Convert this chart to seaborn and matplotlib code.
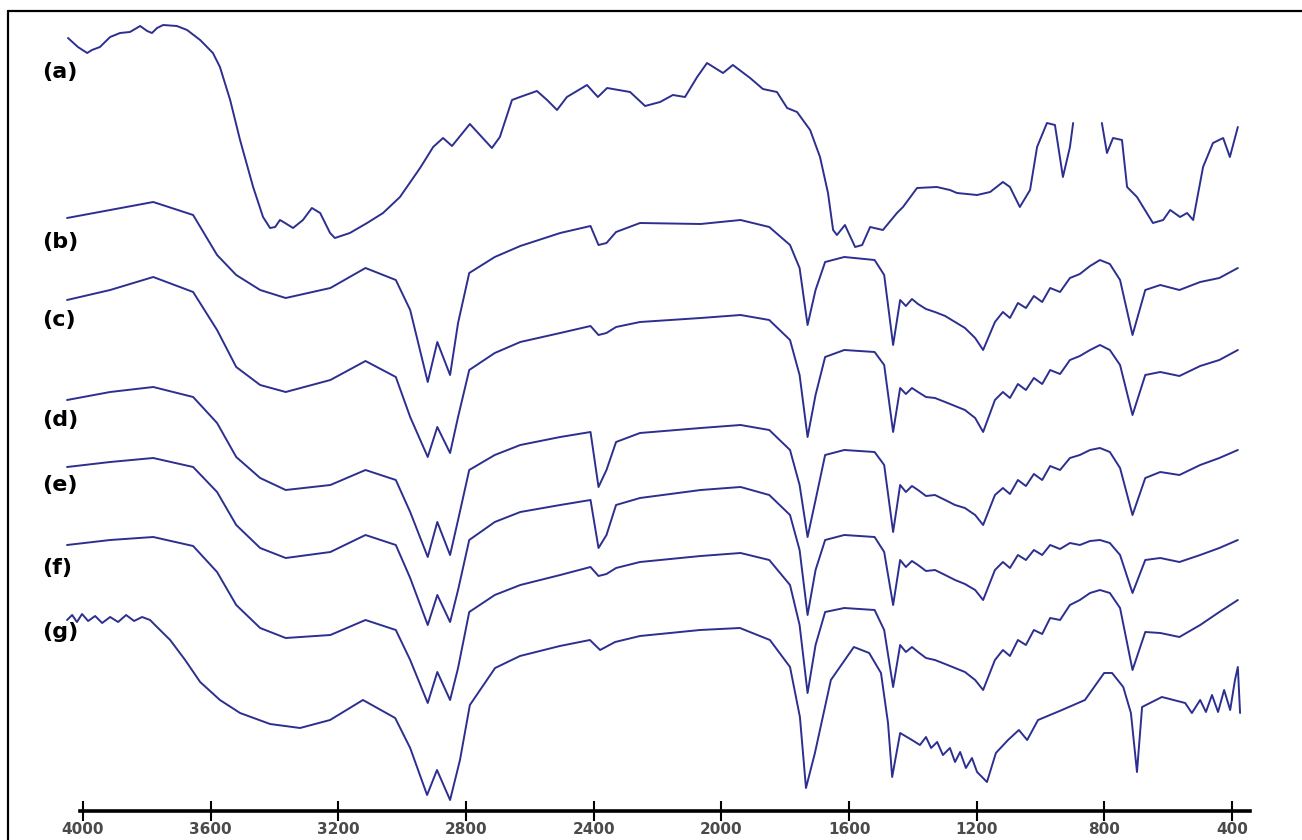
import pandas as pd
import matplotlib
matplotlib.use("Agg")
import matplotlib.pyplot as plt
from matplotlib.lines import Line2D
import seaborn as sns

sns.set_style("white")
plt.rcParams['font.family'] = ['DejaVu Sans']

# wavenumbers (cm-1) shared by the spectra b - f
wavenumber = [4050, 3915, 3780, 3655, 3580, 3520, 3445, 3365, 3225, 3115, 3020, 2975, 2920, 2890, 2850,
              2825, 2790, 2710, 2630, 2505, 2410, 2385, 2360, 2330, 2255, 2065, 1940, 1850, 1785, 1755,
              1730, 1705, 1675, 1615, 1520, 1490,
              1462, 1440, 1422, 1403, 1384, 1359, 1331, 1299, 1268, 1237, 1205, 1180, 1143, 1118, 1096,
              1071, 1046, 1021, 995, 970, 939, 908, 877, 845, 814, 783, 751, 712, 672, 625, 565, 500,
              440, 382]

# stacked transmittance (a.u.)
trace_b = [593, 601, 609, 596, 556, 536, 521, 513, 523, 543, 531, 501, 429, 469, 436,
           488, 538, 554, 565, 578, 585, 566, 568, 579, 588, 587, 591, 584, 566, 543,
           486, 521, 549, 554, 551, 536,
           466, 511, 505, 512, 507, 502, 499, 495, 489, 483, 473, 461, 489, 499, 493,
           508, 503, 515, 509, 523, 519, 533, 537, 545, 551, 547, 531, 476, 521, 526, 521, 529,
           533, 543]
trace_c = [511, 521, 534, 519, 481, 444, 426, 419, 431, 450, 434, 394, 354, 384, 358,
           394, 441, 458, 469, 478, 485, 476, 478, 484, 489, 493, 496, 491, 471, 436,
           374, 416, 454, 461, 459, 446,
           379, 423, 417, 423, 419, 414, 413, 409, 405, 401, 393, 379, 411, 419, 413,
           427, 421, 433, 427, 441, 437, 451, 455, 461, 466, 461, 446, 396, 436, 439, 435, 445,
           451, 461]
trace_d = [411, 419, 424, 414, 388, 354, 333, 321, 326, 341, 331, 299, 254, 289, 256,
           291, 341, 356, 366, 374, 379, 324, 341, 369, 378, 383, 386, 381, 361, 326,
           274, 311, 356, 361, 359, 346,
           279, 326, 319, 325, 321, 315, 316, 311, 306, 303, 296, 286, 316, 323, 317,
           331, 325, 337, 331, 345, 341, 353, 356, 361, 363, 359, 343, 296, 333, 339, 336, 346,
           353, 361]
trace_e = [344, 349, 353, 344, 319, 286, 263, 253, 259, 276, 266, 233, 186, 216, 189,
           221, 271, 289, 299, 306, 311, 263, 276, 306, 313, 321, 324, 316, 296, 261,
           196, 241, 271, 276, 274, 259,
           206, 251, 244, 250, 246, 240, 241, 236, 231, 227, 221, 211, 241, 249, 243,
           256, 251, 261, 256, 266, 262, 268, 266, 270, 271, 268, 256, 218, 251, 253, 249, 256,
           263, 271]
trace_f = [266, 271, 274, 265, 239, 206, 183, 173, 176, 191, 181, 151, 108, 139, 111,
           143, 199, 216, 226, 236, 244, 235, 237, 243, 249, 255, 258, 251, 226, 186,
           118, 166, 199, 203, 201, 181,
           124, 166, 159, 164, 159, 153, 151, 147, 143, 139, 131, 121, 151, 161, 155,
           171, 166, 181, 177, 193, 191, 206, 211, 218, 221, 218, 203, 141, 179, 178, 174, 186,
           199, 211]

# spectrum g is noisier, so it has its own points
wavenumber_g = [4050, 4034, 4019, 4003, 3984, 3962, 3940, 3915, 3890, 3865, 3840, 3815, 3790, 3765, 3727,
                3680, 3633, 3571, 3508, 3414, 3320, 3226, 3123, 3022, 2975, 2922, 2891, 2850, 2819, 2788,
                2709, 2631, 2506, 2412, 2380, 2333, 2255, 2067, 1942, 1848, 1785, 1754, 1735, 1707, 1657,
                1585, 1537, 1500, 1478, 1465, 1440, 1403, 1378, 1359, 1343, 1324, 1306, 1284, 1268, 1252,
                1234, 1215, 1199, 1168, 1140, 1102, 1068, 1042, 1008, 933, 861, 801, 776, 741, 717,
                698, 682, 620, 547, 526, 500, 482, 463, 444, 425, 406, 391, 382, 375]
trace_g = [191, 196, 189, 197, 190, 195, 188, 194, 189, 196, 190, 194, 191, 183, 171,
           151, 129, 111, 98, 87, 83, 91, 111, 93, 63, 16, 41, 11, 51, 106,
           143, 155, 165, 171, 161, 169, 175, 181, 183, 171, 144, 94, 23, 58, 131,
           164, 158, 138, 88, 34, 78, 71, 66, 74, 63, 69, 56, 63, 49, 59,
           43, 53, 39, 29, 58, 71, 81, 71, 91, 101, 111, 138, 138, 124, 98,
           39, 104, 114, 108, 98, 111, 99, 116, 99, 121, 101, 131, 144, 98]

# spectrum a runs off the top between 900 and 800 cm-1
wavenumber_a1 = [4047, 4016, 3987, 3972, 3947, 3915, 3884, 3853, 3821, 3799, 3784, 3768, 3749, 3706, 3674,
                 3633, 3593, 3571, 3539, 3508, 3467, 3436, 3414, 3398, 3383, 3367, 3342, 3311, 3283, 3257,
                 3226, 3211, 3164, 3110, 3060, 3007, 2944, 2903, 2872, 2844, 2788, 2719, 2694, 2656, 2631,
                 2578, 2546, 2515, 2484, 2421, 2387, 2358, 2286, 2239, 2192, 2152, 2114, 2076, 2045, 1995,
                 1964, 1910, 1870, 1826, 1794, 1763, 1722, 1691, 1666, 1650, 1638, 1613, 1581, 1559, 1534,
                 1494, 1450, 1431, 1387, 1325, 1284, 1262, 1199, 1158, 1118, 1096, 1065, 1033, 1011, 980,
                 955, 930, 908, 898]
trace_a1 = [773, 764, 758, 761, 764, 774, 778, 779, 785, 780, 778, 783, 786, 785, 781,
            771, 758, 744, 711, 671, 624, 594, 583, 584, 591, 588, 583, 591, 603, 598,
            578, 573, 578, 588, 598, 614, 643, 664, 673, 665, 687, 663, 674, 711, 714,
            720, 711, 701, 714, 726, 714, 723, 719, 705, 709, 716, 714, 734, 748, 738,
            746, 733, 722, 719, 703, 699, 681, 654, 618, 581, 576, 586, 564, 566, 584,
            581, 598, 604, 623, 624, 621, 618, 616, 619, 629, 624, 604, 621, 664, 688,
            686, 634, 664, 688]
wavenumber_a2 = [808, 792, 773, 745, 729, 698, 648, 616, 594, 563, 541, 522, 491, 460, 428, 407, 382]
trace_a2 = [688, 658, 673, 671, 624, 614, 588, 591, 601, 594, 598, 591, 644, 668, 673, 654, 684]

tick_values = [4000, 3600, 3200, 2800, 2400, 2000, 1600, 1200, 800, 400]
trace_names = ["(a)", "(b)", "(c)", "(d)", "(e)", "(f)", "(g)"]
label_level = [739, 569, 491, 391, 326, 243, 179]

parts = [("a1", wavenumber_a1, trace_a1), ("a2", wavenumber_a2, trace_a2),
         ("b", wavenumber, trace_b), ("c", wavenumber, trace_c), ("d", wavenumber, trace_d),
         ("e", wavenumber, trace_e), ("f", wavenumber, trace_f), ("g", wavenumber_g, trace_g)]
df = pd.concat([pd.DataFrame({"wn": w, "T": v, "trace": n}) for n, w, v in parts])

fig = plt.figure(figsize=(13.02, 8.4), dpi=100)
ax = fig.add_axes([8 / 1302, 29 / 840, 1294 / 1302, 800 / 840])
sns.lineplot(data=df, x="wn", y="T", units="trace", estimator=None, sort=False,
             color="#2c2f8f", lw=1.4, ax=ax, legend=False)

ax.set_xlim(4235, 181)
ax.set_ylim(0, 800)
ax.set_yticks([])
ax.set_xlabel("")
ax.set_ylabel("")
for s in ["left", "right", "top"]:
    ax.spines[s].set_visible(False)
ax.spines["bottom"].set_bounds(4009, 344)
ax.spines["bottom"].set_linewidth(2.6)
ax.spines["bottom"].set_color("black")
ax.set_xticks(tick_values)
ax.set_xticklabels([str(t) for t in tick_values])
ax.tick_params(axis="x", direction="inout", length=14, width=1.5, color="black",
               labelsize=11, labelcolor="#4a4a4a", pad=1, bottom=True)
for t in ax.get_xticklabels():
    t.set_fontweight("bold")

for name, lev in zip(trace_names, label_level):
    ax.text(4128, lev, name, fontsize=16, fontweight="bold", color="black",
            ha="left", va="center")

# frame around the figure (left and top edges)
fig.add_artist(Line2D([8 / 1302, 8 / 1302], [0, 829 / 840], color="black", lw=1.6,
                      transform=fig.transFigure))
fig.add_artist(Line2D([8 / 1302, 1], [829 / 840, 829 / 840], color="black", lw=1.6,
                      transform=fig.transFigure))

fig.savefig("out.png", dpi=100, facecolor="white")
